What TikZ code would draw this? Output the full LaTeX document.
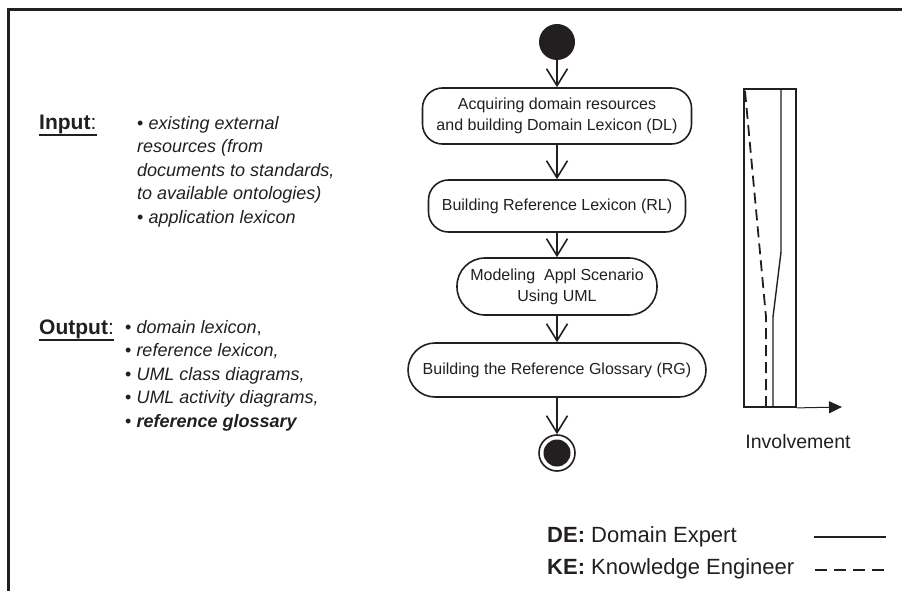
\documentclass[tikz,border=0pt]{standalone}
\usepackage{fontspec}
\setmainfont{Liberation Sans}
\usepackage{xcolor}
\usetikzlibrary{arrows.meta}
\usetikzlibrary{positioning}
\definecolor{ink}{HTML}{231F20}

\begin{document}
\begin{tikzpicture}[x=1pt, y=-1pt, every node/.style={text=ink}]
              \tikzset{act/.style={draw=ink, line width=1.6pt, rounded corners=20pt, align=center, inner sep=0pt, font=\fontsize{16}{21}\selectfont}}
              \tikzset{flow/.style={draw=ink, line width=1.6pt, -{Straight Barb[length=17pt, width=21pt]}}}
              \tikzset{lbl/.style={anchor=west, inner sep=0pt, font=\fontsize{21}{25}\selectfont}}
              \tikzset{items/.style={anchor=north west, align=left, inner sep=0pt, font=\fontsize{18}{23.5}\selectfont}}
              \tikzset{legend/.style={anchor=west, inner sep=0pt, font=\fontsize{22}{26}\selectfont}}

              \def\X{557}
              \def\B{407}

              \useasboundingbox (0,0) rectangle (902,591);
              \draw[ink, line width=2.4pt] (902,9.5) -- (8.5,9.5) -- (8.5,591);

              \node[circle, fill=ink, minimum size=36pt, inner sep=0pt] (start) at (\X,42) {};
              \node[act, minimum width=269pt, minimum height=56pt] (dl) at (\X,116) {Acquiring domain resources\\and building Domain Lexicon (DL)};
              \node[act, minimum width=257pt, minimum height=52pt] (rl) at (\X,206) {Building Reference Lexicon (RL)};
              \node[act, rounded corners=28pt, minimum width=200pt, minimum height=57pt] (uml) at (\X,286.5) {Modeling\ \ Appl Scenario\\Using UML};
              \node[act, rounded corners=27pt, minimum width=298pt, minimum height=54pt] (rg) at (\X,370) {Building the Reference Glossary (RG)};
              \node[circle, draw=ink, line width=1.6pt, minimum size=36pt, inner sep=0pt,
                    path picture={\fill[ink] (path picture bounding box.center) circle (13.5pt);}] (stop) at (\X,453) {};

              \draw[flow] (start) -- (dl);
              \draw[flow] (dl) -- (rl);
              \draw[flow] (rl) -- (uml);
              \draw[flow] (uml) -- (rg);
              \draw[flow] (rg) -- (stop);

              \node[lbl] (inlbl) at (39,124) {\bfseries Input\mdseries:};
              \draw[ink, line width=2.6pt] ([yshift=-6pt]inlbl.base west) -- ([yshift=-6pt]inlbl.base east);
              \node[items] (inlist) at (137,116) {• \itshape existing external\\\itshape resources (from\\\itshape documents to standards,\\\itshape to available ontologies)\\• \itshape application lexicon};

              \node[lbl] (outlbl) at (39,329) {\bfseries Output\mdseries:};
              \draw[ink, line width=2.6pt] ([yshift=-6pt]outlbl.base west) -- ([yshift=-6pt]outlbl.base east);
              \node[items] (outlist) at (125,320) {• \itshape domain lexicon\upshape,\\• \itshape reference lexicon,\\• \itshape UML class diagrams,\\• \itshape UML activity diagrams,\\• \bfseries\itshape reference glossary};

              \node[draw=ink, line width=1.8pt, minimum width=52pt, minimum height=318pt, inner sep=0pt] (chart) at (770,248) {};
              \draw[ink, line width=1.4pt] (781,89) -- (781,252) -- (773,317) -- (773,\B);
              \draw[ink, line width=1.8pt, dash pattern=on 11pt off 6pt] (745,91) -- (766,317) -- (766,\B);
              \coordinate (axis) at (842,\B);
              \draw[ink, line width=1pt, -{Triangle[length=13pt, width=12pt]}] (chart.south east) -- (axis);
              \node[font=\fontsize{19.5}{23}\selectfont] (inv) at (798,442) {Involvement};

              \node[legend] (de) at (547,537) {\bfseries DE:\mdseries\ Domain Expert};
              \node[legend] (ke) at (547,569) {\bfseries KE:\mdseries\ Knowledge Engineer};
              \draw[ink, line width=1.6pt] (814,537) -- (886,537);
              \draw[ink, line width=1.6pt, dash pattern=on 12pt off 7pt] (815,570) -- (886,570);
            \end{tikzpicture}
\end{document}
